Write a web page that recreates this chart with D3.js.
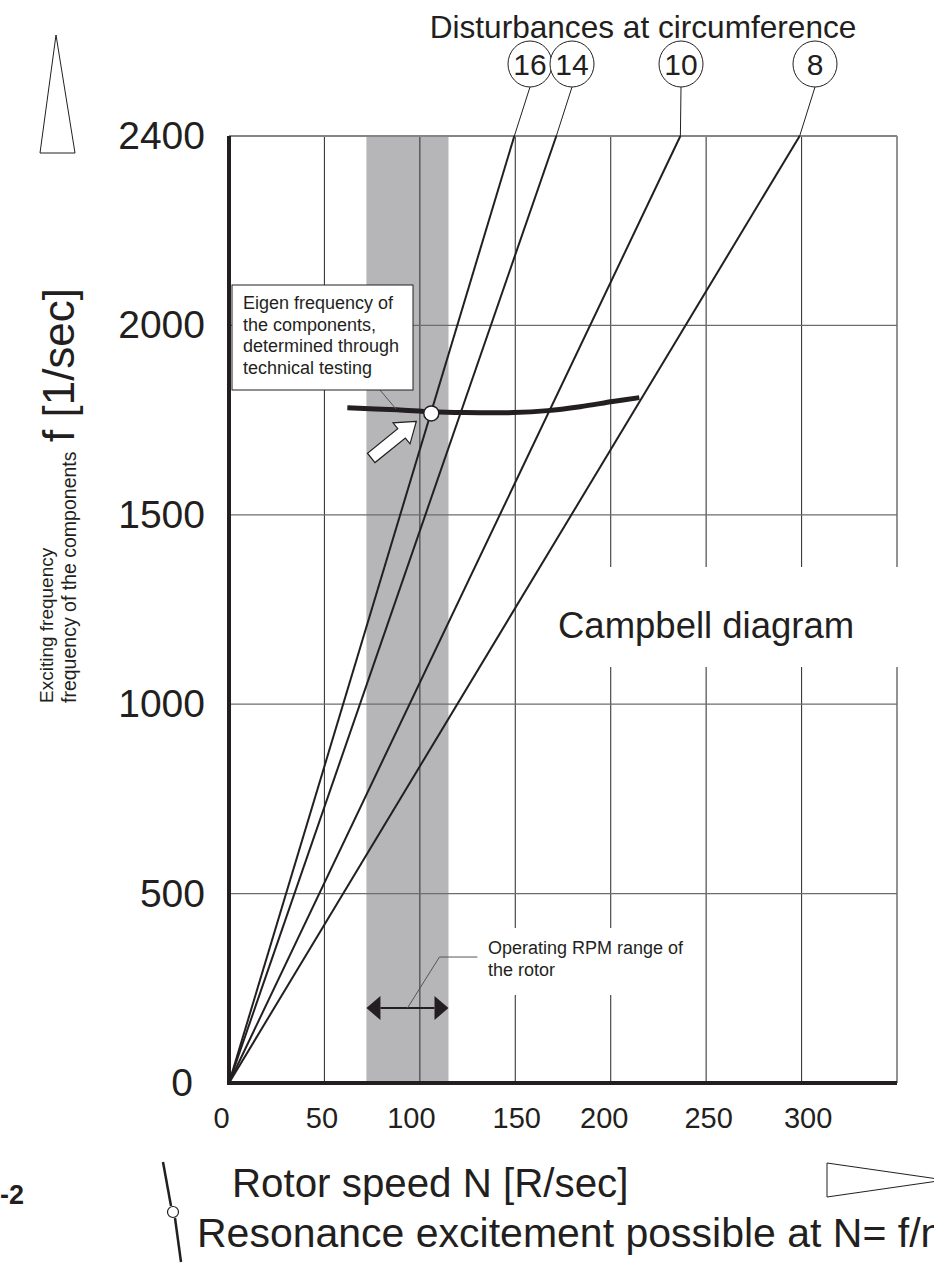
<!DOCTYPE html>
<html>
<head>
<meta charset="utf-8">
<script src="https://cdn.jsdelivr.net/npm/d3@7"></script>
<style>
  html, body { margin: 0; padding: 0; background: #fff; }
  svg { display: block; }
  text { font-family: "Liberation Sans", Arial, Helvetica, sans-serif; fill: #231f20; }
</style>
</head>
<body>
<svg id="chart" width="934" height="1263"></svg>
<script>
// ---------------- data ----------------
const xTickValues = [0, 50, 100, 150, 200, 250, 300];
const xTickLabels = ["0", "50", "100", "150", "200", "250", "300"];
const xGridValues = [50, 100, 150, 200, 250, 300, 350];
const yTickLabels = ["0", "500", "1000", "1500", "2000", "2400"];
const speedDomain = [0, 350];
const freqDomain = [0, 2400];
const orders = [16, 14, 10, 8];                   // disturbances at circumference
const orderTopSpeed = [149.5, 171.5, 236.5, 299]; // speed where each order line reaches 2400
const eigenSpeed = [62, 88, 106, 123, 149, 167, 184, 201, 215];
const eigenFreq  = [1711, 1706, 1701, 1699, 1699, 1704, 1714, 1727, 1737];
const operatingRange = [72, 115];
const operatingArrowFreq = 190;
const resonanceSpeed = 106;
const resonanceFreq = 1697;

// ---------------- layout ----------------
const xLabelNudge = { 0: -8, 50: -3, 100: -9, 150: 1, 200: -7, 250: 2, 300: 6 };
const orderCircleX = [530, 572, 681, 815];

// ---------------- drawing ----------------
const svg = d3.select("#chart");
const ink = "#231f20";

const x = d3.scaleLinear().domain(speedDomain).range([229, 897]);
const yLin = d3.scaleLinear().domain(freqDomain).range([1083, 136]);
const yGrid = d3.scalePoint().domain(yTickLabels).range([1083, 136]);

// operating band
svg.append("rect")
  .attr("x", x(operatingRange[0])).attr("y", yLin(2400))
  .attr("width", x(operatingRange[1]) - x(operatingRange[0]))
  .attr("height", yLin(0) - yLin(2400))
  .attr("fill", "#b6b6b8");

// vertical grid
svg.append("g").selectAll("line").data(xGridValues).join("line")
  .attr("x1", d => x(d)).attr("x2", d => x(d))
  .attr("y1", yLin(2400)).attr("y2", yLin(0))
  .attr("stroke", "#3a3a3a").attr("stroke-width", 1.1);

// horizontal grid
svg.append("g").selectAll("line").data(yTickLabels.slice(1, -1)).join("line")
  .attr("x1", x(0)).attr("x2", x(350))
  .attr("y1", d => yGrid(d)).attr("y2", d => yGrid(d))
  .attr("stroke", "#6d6d6d").attr("stroke-width", 1.2);

// top border
svg.append("line")
  .attr("x1", x(0)).attr("x2", x(350))
  .attr("y1", yGrid("2400")).attr("y2", yGrid("2400"))
  .attr("stroke", "#858585").attr("stroke-width", 2);

// white gaps behind texts
svg.append("rect").attr("x", 545).attr("y", 567).attr("width", 365).attr("height", 100).attr("fill", "#fff");
svg.append("rect").attr("x", 482).attr("y", 928).attr("width", 212).attr("height", 67).attr("fill", "#fff");

// axes
const yAxis = d3.axisLeft(yGrid).tickSize(0).tickPadding(24);
const gy = svg.append("g").attr("transform", `translate(${x(0)},0)`).call(yAxis);
gy.select(".domain").remove();
gy.selectAll("text").attr("font-size", 39).attr("font-family", '"Liberation Sans", Arial, sans-serif').attr("fill", ink)
  .attr("dx", d => d === "0" ? -12 : 0);

const xAxis = d3.axisBottom(x).tickValues(xTickValues).tickFormat((d, i) => xTickLabels[i]).tickSize(0).tickPadding(24);
const gx = svg.append("g").attr("transform", `translate(0,${yLin(0)})`).call(xAxis);
gx.select(".domain").remove();
gx.selectAll("text").attr("font-size", 29).attr("font-family", '"Liberation Sans", Arial, sans-serif').attr("fill", ink)
  .attr("dx", d => xLabelNudge[d] || 0);

svg.append("line").attr("x1", x(0)).attr("x2", x(0)).attr("y1", yLin(2400)).attr("y2", yLin(0) + 2)
  .attr("stroke", ink).attr("stroke-width", 4);
svg.append("line").attr("x1", x(0) - 2).attr("x2", x(350)).attr("y1", yLin(0)).attr("y2", yLin(0))
  .attr("stroke", ink).attr("stroke-width", 4);

// order lines
const line = d3.line().x(d => x(d[0])).y(d => yLin(d[1]));
svg.append("g").selectAll("path").data(orderTopSpeed).join("path")
  .attr("d", s => line([[0, 0], [s, 2400]]))
  .attr("fill", "none").attr("stroke", ink).attr("stroke-width", 2);

// order labels (circles) with leaders
const circleCy = 64, circleRx = 22, circleRy = 23;
orders.forEach((n, i) => {
  const cx = orderCircleX[i];
  svg.append("line")
    .attr("x1", cx).attr("y1", circleCy + circleRy)
    .attr("x2", x(orderTopSpeed[i])).attr("y2", yLin(2400))
    .attr("stroke", ink).attr("stroke-width", 1);
  svg.append("ellipse").attr("cx", cx).attr("cy", circleCy).attr("rx", circleRx).attr("ry", circleRy)
    .attr("fill", "#fff").attr("stroke", ink).attr("stroke-width", 1);
  svg.append("text").attr("x", cx).attr("y", circleCy + 11).attr("text-anchor", "middle")
    .attr("font-size", 30).text(n);
});

svg.append("text").attr("x", 643).attr("y", 38).attr("text-anchor", "middle")
  .attr("font-size", 31.6).text("Disturbances at circumference");

// eigen frequency curve
const eigenPts = eigenSpeed.map((s, i) => [s, eigenFreq[i]]);
svg.append("path")
  .attr("d", d3.line().x(d => x(d[0])).y(d => yLin(d[1])).curve(d3.curveCatmullRom)(eigenPts))
  .attr("fill", "none").attr("stroke", ink).attr("stroke-width", 5).attr("stroke-linecap", "butt");

// label box
const bx = 232, by = 285, bw = 181, bh = 105;
svg.append("line").attr("x1", 380).attr("y1", by + bh).attr("x2", 396).attr("y2", 409)
  .attr("stroke", "#555").attr("stroke-width", 1);
svg.append("rect").attr("x", bx).attr("y", by).attr("width", bw).attr("height", bh)
  .attr("fill", "#fff").attr("stroke", ink).attr("stroke-width", 1);
["Eigen frequency of", "the components,", "determined through", "technical testing"].forEach((t, i) => {
  svg.append("text").attr("x", bx + 11).attr("y", 309 + i * 21.7).attr("font-size", 18).text(t);
});

// resonance point
const rp = [x(resonanceSpeed), yLin(resonanceFreq)];

// white arrow pointing to resonance
(function () {
  const tip = [rp[0] - 15, rp[1] + 8];
  const ang = Math.atan2(-34, 42);
  const L = 58, hl = 19, hw = 13.5, sw = 6;
  const local = [[0, 0], [-hl, -hw], [-hl, -sw], [-L, -sw], [-L, sw], [-hl, sw], [-hl, hw]];
  const pts = local.map(([u, v]) => [
    tip[0] + u * Math.cos(ang) - v * Math.sin(ang),
    tip[1] + u * Math.sin(ang) + v * Math.cos(ang)
  ]);
  svg.append("polygon").attr("points", pts.map(p => p.join(",")).join(" "))
    .attr("fill", "#fff").attr("stroke", ink).attr("stroke-width", 1.2).attr("stroke-linejoin", "miter");
})();

svg.append("circle").attr("cx", rp[0]).attr("cy", rp[1]).attr("r", 7.5)
  .attr("fill", "#fff").attr("stroke", ink).attr("stroke-width", 1.5);

// Campbell diagram title
svg.append("text").attr("x", 558).attr("y", 638).attr("font-size", 36.5).text("Campbell diagram");

// operating range double arrow
(function () {
  const x0 = x(operatingRange[0]), x1 = x(operatingRange[1]), yy = yLin(operatingArrowFreq);
  const hl = 14, hw = 12;
  svg.append("line").attr("x1", x0 + hl).attr("x2", x1 - hl).attr("y1", yy).attr("y2", yy)
    .attr("stroke", ink).attr("stroke-width", 2);
  svg.append("polygon").attr("points", `${x0},${yy} ${x0 + hl},${yy - hw} ${x0 + hl},${yy + hw}`).attr("fill", ink);
  svg.append("polygon").attr("points", `${x1},${yy} ${x1 - hl},${yy - hw} ${x1 - hl},${yy + hw}`).attr("fill", ink);
  const mx = (x0 + x1) / 2;
  svg.append("polyline").attr("points", `${mx},${yy} ${mx + 32},${yy - 51} ${mx + 70},${yy - 51}`)
    .attr("fill", "none").attr("stroke", "#555").attr("stroke-width", 1);
})();
svg.append("text").attr("x", 488).attr("y", 954).attr("font-size", 18).text("Operating RPM range of");
svg.append("text").attr("x", 488).attr("y", 976).attr("font-size", 18).text("the rotor");

// axis titles
svg.append("text").attr("x", 232).attr("y", 1197).attr("font-size", 40.3).text("Rotor speed N [R/sec]");
svg.append("text").attr("x", 197).attr("y", 1247).attr("font-size", 41).text("Resonance excitement possible at N= f/n");

svg.append("text").attr("transform", "translate(53,703) rotate(-90)").attr("font-size", 19).text("Exciting frequency");
svg.append("text").attr("transform", "translate(76,703) rotate(-90)").attr("font-size", 19.5).text("frequency of the components");
svg.append("text").attr("transform", "translate(74,442) rotate(-90)").attr("font-size", 44).text("f [1/sec]");

// decorative triangles
svg.append("polygon").attr("points", "56,35 40,153 75,153")
  .attr("fill", "#fff").attr("stroke", ink).attr("stroke-width", 1);
svg.append("polygon").attr("points", "827,1163 827,1197 945,1180")
  .attr("fill", "#fff").attr("stroke", ink).attr("stroke-width", 1);

// resonance icon
svg.append("line").attr("x1", 163).attr("y1", 1162).attr("x2", 171).attr("y2", 1206).attr("stroke", ink).attr("stroke-width", 2.5);
svg.append("line").attr("x1", 175).attr("y1", 1218).attr("x2", 181).attr("y2", 1262).attr("stroke", ink).attr("stroke-width", 2.5);
svg.append("circle").attr("cx", 173).attr("cy", 1212).attr("r", 5.5).attr("fill", "#fff").attr("stroke", ink).attr("stroke-width", 1.2);

// figure number fragment
svg.append("text").attr("x", 0).attr("y", 1204).attr("font-size", 27).attr("font-weight", "bold")
  .attr("font-family", '"Liberation Serif", "Times New Roman", serif').text("-2");
</script>
</body>
</html>
